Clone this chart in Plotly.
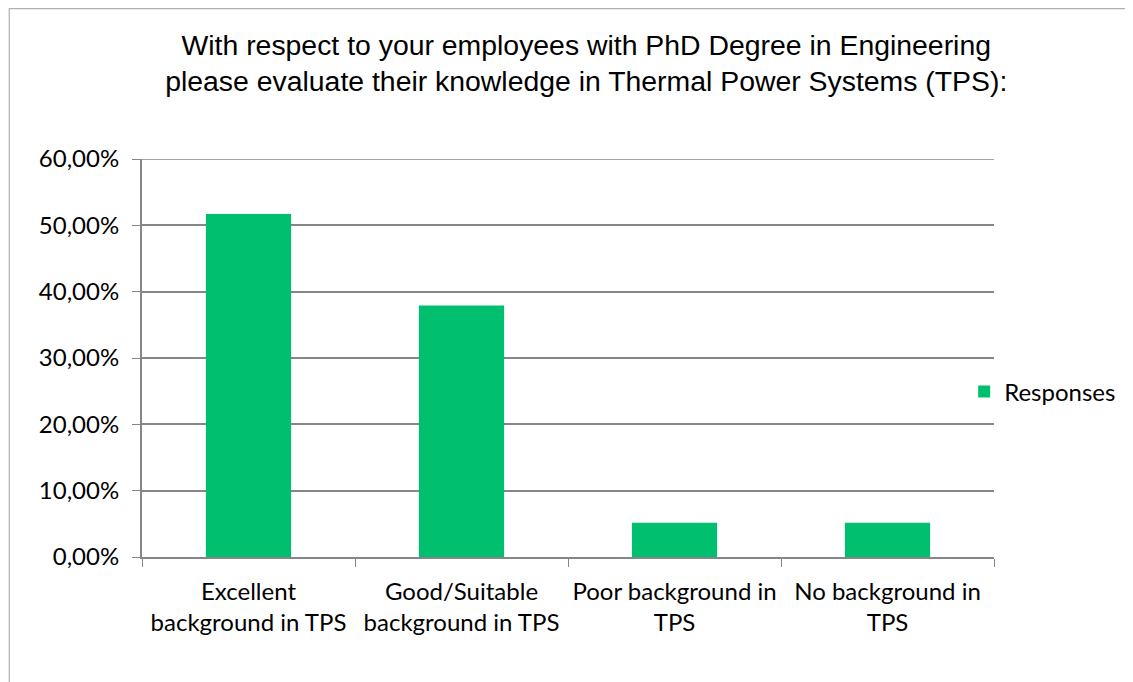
import plotly.graph_objects as go

categories = [
    "Excellent<br>background in TPS",
    "Good/Suitable<br>background in TPS",
    "Poor background in<br>TPS",
    "No background in<br>TPS",
]
responses = [0.5172, 0.3793, 0.0517, 0.0517]
y_ticks = [0, 0.1, 0.2, 0.3, 0.4, 0.5, 0.6]

title_text = ("With respect to your employees with PhD Degree in Engineering<br>"
              "please evaluate their knowledge in Thermal Power Systems (TPS):")

fig = go.Figure()
fig.add_trace(go.Bar(x=categories, y=responses, name="Responses",
                     marker=dict(color="#00BF6F", line=dict(width=0))))

fig.update_layout(
    width=1125, height=674,
    margin=dict(l=134, r=134, t=151, b=125),
    paper_bgcolor="white", plot_bgcolor="white",
    separators=",.",
    bargap=0.6,
    font=dict(family="Lato", size=24, color="#000000"),
    title=dict(text=title_text, x=0.514, xanchor="center", y=0.931, yanchor="middle",
               font=dict(family="Liberation Sans", size=28.4, color="#000000")),
    showlegend=True,
    legend=dict(x=0.965, xanchor="left", y=0.415, yanchor="middle",
                font=dict(family="Lato", size=24), itemwidth=30),
    xaxis=dict(tickson="boundaries", ticks="outside", ticklen=8, tickcolor="#868686",
               showline=True, linecolor="#868686", linewidth=2, showgrid=False,
               tickangle=0, automargin=False,
               ticklabelstandoff=12, tickfont=dict(size=24)),
    yaxis=dict(range=[0, 0.6], tickvals=y_ticks, tickformat=".2%",
               ticks="outside", ticklen=8, tickcolor="#868686",
               showline=True, linecolor="#868686", linewidth=2,
               showgrid=True, gridcolor="#868686", gridwidth=1.5, zeroline=False,
               automargin=False,
               ticklabelstandoff=8, tickfont=dict(size=24)),
)

# top gridline at 60 %
fig.add_shape(type="line", xref="paper", yref="y", x0=0, x1=1,
              y0=y_ticks[-1], y1=y_ticks[-1],
              line=dict(color="#868686", width=1.5))

# outer chart frame
fig.add_shape(type="rect", xref="paper", yref="paper",
              x0=-0.1558, x1=1.2, y0=-0.5, y1=1.378,
              line=dict(color="#b0b0b0", width=1.2))

fig.write_html("out.html")
